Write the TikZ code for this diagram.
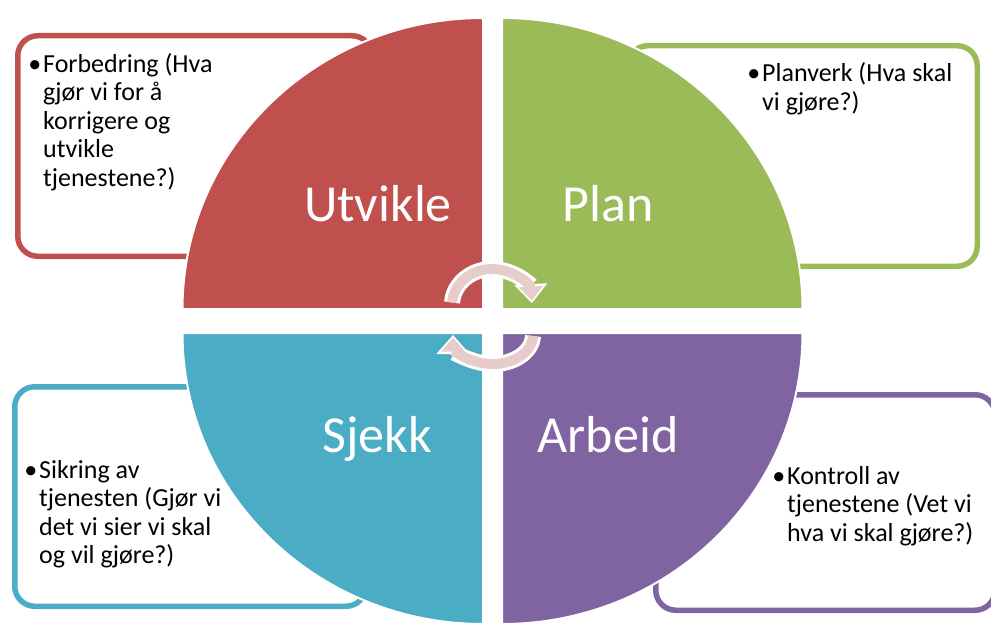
\documentclass[tikz,border=0pt]{standalone}
\usepackage{fontspec}
\setmainfont{Carlito}
\usetikzlibrary{arrows.meta}
\definecolor{utvred}{RGB}{192,80,77}
\definecolor{plangreen}{RGB}{155,187,89}
\definecolor{sjekkblue}{RGB}{75,172,198}
\definecolor{arbpurple}{RGB}{128,100,162}
\definecolor{cyclepink}{RGB}{231,204,204}
\newcommand{\bulletmark}{\llap{•\hspace{2pt}}}

\begin{document}
\begin{tikzpicture}[x=1pt, y=-1pt,
		infobox/.style={line width=5.5pt, rounded corners=20pt, fill=white},
		quadrant/.style={draw=white, line width=2pt},
		phase/.style={font=\fontsize{52}{60}\selectfont, text=white, inner sep=0pt, anchor=base},
		bodytext/.style={font=\fontsize{26}{28.5}\selectfont, align=left, inner sep=0pt, anchor=base west},
		arrowrim/.style={white, line width=16pt, -{Triangle[length=19pt, width=32pt]}},
		arrowband/.style={cyclepink, line width=10pt, -{Triangle[length=14pt, width=23pt]}, shorten >=2.5pt}]
	\useasboundingbox (0,0) rectangle (991,623);
	
	% text boxes behind the circle
	\draw[infobox, draw=utvred] (17.75,35.75) rectangle (372,256.25);
	\draw[infobox, draw=plangreen] (627.75,45.75) rectangle (977.25,266.25);
	\draw[infobox, draw=sjekkblue] (14.75,386.75) rectangle (366,606.25);
	\draw[infobox, draw=arbpurple] (655.75,394.75) rectangle (995,610.25);
	
	% quadrants
	\filldraw[fill=utvred, quadrant] (483,309) -- (182.5,309) arc[start angle=180, end angle=270, x radius=300.5, y radius=291] -- cycle;
	\filldraw[fill=plangreen, quadrant] (502,309) -- (502,18) arc[start angle=270, end angle=360, x radius=300.5, y radius=291] -- cycle;
	\filldraw[fill=arbpurple, quadrant] (502,333) -- (802.5,333) arc[start angle=0, end angle=90, x radius=300.5, y radius=291] -- cycle;
	\filldraw[fill=sjekkblue, quadrant] (483,333) -- (483,624) arc[start angle=90, end angle=180, x radius=300.5, y radius=291] -- cycle;
	
	% phase names
	\node[phase] (utvikle) at (378,222) {Utvikle};
	\node[phase] (plan) at (608,222) {Plan};
	\node[phase] (sjekk) at (377,452) {Sjekk};
	\node[phase] (arbeid) at (608,452) {Arbeid};
	
	% cycle arrows in the middle
	\draw[arrowrim] ([shift={(-176:40 and 36)}]492,305) arc[start angle=-176, end angle=-3, x radius=40, y radius=36];
	\draw[arrowrim] ([shift={(2:40 and 29)}]493,335) arc[start angle=2, end angle=180, x radius=40, y radius=29];
	\draw[arrowband] ([shift={(-176:40 and 36)}]492,305) arc[start angle=-176, end angle=-3, x radius=40, y radius=36];
	\draw[arrowband] ([shift={(2:40 and 29)}]493,335) arc[start angle=2, end angle=180, x radius=40, y radius=29];
	
	% box texts (placed at the baseline of the last line)
	\node[bodytext] (forbedring) at (43,186) {\bulletmark Forbedring (Hva\\gjør vi for å\\korrigere og\\utvikle\\tjenestene?)};
	\node[bodytext] (planverk) at (762,110.5) {\bulletmark Planverk (Hva skal\\vi gjøre?)};
	\node[bodytext] (sikring) at (39,563.5) {\bulletmark Sikring av\\tjenesten (Gjør vi\\det vi sier vi skal\\og vil gjøre?)};
	\node[bodytext] (kontroll) at (787,541) {\bulletmark Kontroll av\\tjenestene (Vet vi\\hva vi skal gjøre?)};
	
\end{tikzpicture}
\end{document}
